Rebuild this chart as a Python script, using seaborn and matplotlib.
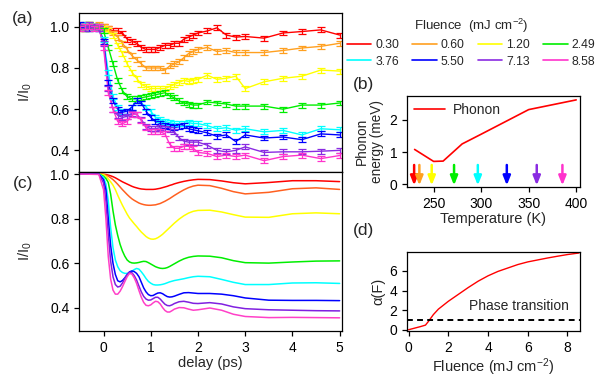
import matplotlib
matplotlib.use("Agg")
import matplotlib.pyplot as plt
from matplotlib.lines import Line2D
from matplotlib.ticker import FormatStrFormatter
import seaborn as sns
import pandas as pd

# ---------------- data ----------------
fluences = ["0.30", "0.60", "1.20", "2.49", "3.76", "5.50", "7.13", "8.58"]
colors = ["#FF0000", "#FFA020", "#FFFF00", "#00EE00", "#00FFFF", "#0000FF", "#8A2BE2", "#FF33CC"]
colors_c = ["#FF0000", "#FF6020", "#FFFF00", "#00EE00", "#00FFFF", "#0000FF", "#8020E0", "#FF40C8"]

# (a) measured I/I0 vs delay
t_exp = [-0.5, -0.4, -0.3, -0.2, -0.1, 0.0, 0.1, 0.2, 0.3, 0.4, 0.5, 0.6, 0.7, 0.8, 0.9,
         1.0, 1.1, 1.2, 1.3, 1.4, 1.5, 1.6, 1.7, 1.8, 1.9, 2.0,
         2.2, 2.4, 2.6, 2.8, 3.0, 3.4, 3.8, 4.2, 4.6, 5.0]
exp_030 = [1.00, 0.99, 1.01, 1.00, 1.00, 1.00, 0.99, 0.98, 0.98, 0.97, 0.94, 0.93, 0.92, 0.90, 0.89,
           0.89, 0.89, 0.90, 0.91, 0.91, 0.92, 0.92, 0.94, 0.95, 0.96, 0.97,
           0.98, 0.995, 0.96, 0.95, 0.953, 0.945, 0.97, 0.977, 0.985, 0.96]
exp_060 = [1.00, 1.01, 0.99, 1.00, 1.01, 1.00, 0.99, 0.97, 0.95, 0.92, 0.89, 0.86, 0.84, 0.82, 0.80,
           0.80, 0.80, 0.80, 0.79, 0.81, 0.82, 0.83, 0.85, 0.87, 0.88, 0.89,
           0.90, 0.88, 0.885, 0.875, 0.875, 0.875, 0.885, 0.897, 0.905, 0.92]
exp_120 = [0.99, 1.00, 1.01, 1.00, 1.00, 0.99, 0.98, 0.96, 0.91, 0.87, 0.82, 0.78, 0.75, 0.72, 0.71,
           0.70, 0.70, 0.70, 0.70, 0.71, 0.72, 0.73, 0.74, 0.735, 0.74, 0.745,
           0.765, 0.745, 0.75, 0.76, 0.70, 0.733, 0.75, 0.76, 0.79, 0.785]
exp_249 = [1.00, 0.99, 1.01, 1.00, 1.00, 0.98, 0.90, 0.82, 0.74, 0.69, 0.66, 0.65, 0.65, 0.655, 0.66,
           0.665, 0.67, 0.675, 0.68, 0.665, 0.655, 0.64, 0.63, 0.625, 0.62, 0.62,
           0.635, 0.63, 0.625, 0.615, 0.615, 0.615, 0.60, 0.62, 0.62, 0.63]
exp_376 = [1.00, 1.01, 0.99, 1.00, 0.99, 0.94, 0.78, 0.66, 0.61, 0.59, 0.59, 0.61, 0.64, 0.63, 0.61,
           0.59, 0.56, 0.55, 0.54, 0.535, 0.53, 0.53, 0.53, 0.535, 0.53, 0.53,
           0.52, 0.505, 0.51, 0.498, 0.505, 0.49, 0.497, 0.475, 0.505, 0.50]
exp_550 = [1.01, 1.00, 0.99, 1.00, 0.99, 0.93, 0.73, 0.64, 0.60, 0.585, 0.59, 0.61, 0.64, 0.63, 0.59,
           0.56, 0.54, 0.53, 0.52, 0.515, 0.51, 0.515, 0.52, 0.505, 0.50, 0.495,
           0.485, 0.468, 0.475, 0.443, 0.475, 0.46, 0.465, 0.452, 0.48, 0.475]
exp_713 = [1.00, 0.99, 1.01, 1.00, 0.99, 0.92, 0.70, 0.60, 0.57, 0.56, 0.565, 0.58, 0.575, 0.55, 0.515,
           0.505, 0.505, 0.51, 0.505, 0.50, 0.49, 0.46, 0.445, 0.44, 0.44, 0.44,
           0.425, 0.40, 0.393, 0.40, 0.417, 0.39, 0.393, 0.393, 0.396, 0.40]
exp_858 = [0.99, 1.00, 1.00, 0.99, 1.00, 0.90, 0.68, 0.60, 0.54, 0.53, 0.54, 0.575, 0.575, 0.545, 0.51,
           0.49, 0.49, 0.49, 0.48, 0.43, 0.41, 0.41, 0.42, 0.42, 0.41, 0.39,
           0.385, 0.37, 0.377, 0.37, 0.377, 0.35, 0.37, 0.377, 0.36, 0.375]
exp_err = 0.012

# (c) simulated I/I0 vs delay
t_sim = [-0.5, -0.1,
         0.00, 0.05, 0.10, 0.15, 0.20, 0.25, 0.30, 0.35, 0.40, 0.45, 0.50, 0.55, 0.60, 0.65, 0.70, 0.75,
         0.80, 0.85, 0.90, 0.95, 1.00, 1.05, 1.10, 1.15, 1.20, 1.25, 1.30, 1.35, 1.40, 1.45, 1.50,
         1.6, 1.7, 1.8, 1.9, 2.0, 2.25, 2.5, 2.75, 3.0, 3.5, 4.0, 4.5, 5.0]
sim_030 = [1.0, 1.0,
           0.999, 0.998, 0.995, 0.992, 0.988, 0.983, 0.977, 0.971, 0.965, 0.960, 0.955, 0.950, 0.945, 0.941,
           0.938, 0.935, 0.933, 0.932, 0.931, 0.931, 0.931, 0.931, 0.932, 0.934, 0.936, 0.939, 0.942, 0.945,
           0.949, 0.952, 0.956,
           0.962, 0.967, 0.971, 0.974, 0.976, 0.975, 0.969, 0.961, 0.956, 0.962, 0.970, 0.970, 0.966]
sim_060 = [1.0, 1.0,
           0.998, 0.995, 0.990, 0.983, 0.975, 0.965, 0.954, 0.942, 0.930, 0.919, 0.908, 0.898, 0.889, 0.882,
           0.876, 0.870, 0.866, 0.863, 0.861, 0.860, 0.860, 0.861, 0.862, 0.865, 0.868, 0.873, 0.878, 0.884,
           0.890, 0.897, 0.904,
           0.917, 0.929, 0.939, 0.946, 0.950, 0.948, 0.936, 0.921, 0.911, 0.918, 0.934, 0.938, 0.931]
sim_120 = [1.0, 1.0,
           0.997, 0.990, 0.978, 0.965, 0.950, 0.930, 0.905, 0.882, 0.860, 0.840, 0.820, 0.803, 0.790, 0.777,
           0.765, 0.752, 0.740, 0.730, 0.720, 0.713, 0.709, 0.708, 0.710, 0.715, 0.722, 0.730, 0.740, 0.750,
           0.760, 0.770, 0.780,
           0.798, 0.813, 0.825, 0.833, 0.837, 0.838, 0.830, 0.818, 0.807, 0.806, 0.822, 0.826, 0.822]
sim_249 = [1.0, 1.0,
           0.990, 0.980, 0.962, 0.910, 0.835, 0.772, 0.725, 0.685, 0.655, 0.632, 0.615, 0.606, 0.602, 0.601,
           0.602, 0.604, 0.607, 0.609, 0.608, 0.603, 0.597, 0.591, 0.585, 0.581, 0.578, 0.577, 0.578, 0.581,
           0.586, 0.592, 0.598,
           0.610, 0.620, 0.627, 0.631, 0.633, 0.632, 0.625, 0.612, 0.603, 0.601, 0.606, 0.610, 0.611]
sim_376 = [1.0, 1.0,
           0.985, 0.955, 0.880, 0.760, 0.670, 0.615, 0.585, 0.567, 0.559, 0.555, 0.555, 0.558, 0.565, 0.572,
           0.577, 0.574, 0.562, 0.548, 0.532, 0.519, 0.511, 0.505, 0.503, 0.503, 0.504, 0.506, 0.509, 0.513,
           0.517, 0.520, 0.523,
           0.527, 0.531, 0.536, 0.540, 0.542, 0.540, 0.528, 0.515, 0.505, 0.505, 0.512, 0.513, 0.510]
sim_550 = [1.0, 1.0,
           0.975, 0.930, 0.800, 0.680, 0.600, 0.550, 0.522, 0.517, 0.523, 0.535, 0.550, 0.562, 0.566, 0.563,
           0.555, 0.540, 0.515, 0.490, 0.472, 0.460, 0.455, 0.456, 0.462, 0.467, 0.468, 0.464, 0.457, 0.451,
           0.449, 0.450, 0.453,
           0.461, 0.468, 0.469, 0.467, 0.465, 0.465, 0.462, 0.455, 0.445, 0.435, 0.434, 0.434, 0.433]
sim_713 = [1.0, 1.0,
           0.960, 0.880, 0.730, 0.610, 0.540, 0.505, 0.494, 0.497, 0.512, 0.532, 0.550, 0.560, 0.558, 0.545,
           0.525, 0.498, 0.472, 0.452, 0.440, 0.435, 0.436, 0.442, 0.448, 0.448, 0.440, 0.428, 0.417, 0.411,
           0.410, 0.414, 0.420,
           0.428, 0.430, 0.426, 0.421, 0.420, 0.424, 0.418, 0.405, 0.397, 0.392, 0.390, 0.388, 0.387]
sim_858 = [1.0, 0.998,
           0.930, 0.800, 0.630, 0.530, 0.480, 0.462, 0.462, 0.475, 0.495, 0.518, 0.540, 0.555, 0.552, 0.535,
           0.510, 0.478, 0.448, 0.425, 0.412, 0.410, 0.414, 0.423, 0.430, 0.428, 0.418, 0.402, 0.389, 0.382,
           0.382, 0.388, 0.395,
           0.402, 0.401, 0.395, 0.390, 0.392, 0.400, 0.390, 0.372, 0.362, 0.357, 0.358, 0.357, 0.356]

# (b) phonon energy vs temperature, arrows mark the fluence temperatures
phonon_T = [230, 250, 260, 280, 300, 350, 400]
phonon_E = [1.08, 0.71, 0.72, 1.25, 1.55, 2.31, 2.61]
arrow_T = [229.5, 235, 248, 271.5, 296.5, 327, 358.5, 385.5]

# (d) alpha(F)
alpha_F = [0, 0.3, 0.6, 0.85, 1.0, 1.25, 1.5, 2.0, 2.5, 3.0, 3.5, 4.0, 4.5, 5.0, 5.5, 6.0,
           6.5, 7.0, 7.5, 8.0, 8.58]
alpha_val = [0, 0.16, 0.32, 0.47, 0.85, 1.55, 2.1, 2.9, 3.6, 4.3, 4.95, 5.5, 5.95, 6.3, 6.65, 6.92,
             7.12, 7.32, 7.5, 7.67, 7.83]
phase_level = 1.0

exp_series = [exp_030, exp_060, exp_120, exp_249, exp_376, exp_550, exp_713, exp_858]
sim_series = [sim_030, sim_060, sim_120, sim_249, sim_376, sim_550, sim_713, sim_858]

df_exp = pd.DataFrame([(t, v, f) for f, s in zip(fluences, exp_series) for t, v in zip(t_exp, s)],
                      columns=["delay", "I", "fluence"])
df_sim = pd.DataFrame([(t, v, f) for f, s in zip(fluences, sim_series) for t, v in zip(t_sim, s)],
                      columns=["delay", "I", "fluence"])

# ---------------- style ----------------
sns.set_theme(style="ticks")
plt.rcParams["font.family"] = ["Liberation Sans", "DejaVu Sans"]
plt.rcParams["mathtext.default"] = "regular"
plt.rcParams["font.size"] = 10
plt.rcParams["axes.edgecolor"] = "black"
plt.rcParams["axes.linewidth"] = 0.9
plt.rcParams["xtick.color"] = "black"
plt.rcParams["ytick.color"] = "black"
plt.rcParams["xtick.major.size"] = 3.5
plt.rcParams["ytick.major.size"] = 3.5
plt.rcParams["xtick.major.width"] = 0.9
plt.rcParams["ytick.major.width"] = 0.9
plt.rcParams["xtick.labelsize"] = 10
plt.rcParams["ytick.labelsize"] = 10

W, H = 600, 386
fig = plt.figure(figsize=(6.0, 3.86), dpi=100)


def px_axes(l, t, r, b):
    return fig.add_axes([l / W, 1 - b / H, (r - l) / W, (b - t) / H])


ax_a = px_axes(79, 13, 342, 172)
ax_c = px_axes(79, 172, 342, 331)
ax_b = px_axes(407, 96, 580, 187)
ax_d = px_axes(407, 252, 580, 331)

# (a)
sns.lineplot(data=df_exp, x="delay", y="I", hue="fluence", palette=colors, estimator=None,
             sort=False, linewidth=1.0, legend=False, ax=ax_a)
for s, c in zip(exp_series, colors):
    ax_a.errorbar(t_exp, s, yerr=exp_err, fmt="none", ecolor=c, elinewidth=0.9, capsize=2.8,
                  capthick=0.9)
ax_a.set_xlim(-0.52, 5.05)
ax_a.set_ylim(0.295, 1.067)
ax_a.set_yticks([0.4, 0.6, 0.8, 1.0])
ax_a.yaxis.set_major_formatter(FormatStrFormatter("%.1f"))
ax_a.tick_params(axis="x", bottom=False, labelbottom=False)
ax_a.set_xlabel("")
ax_a.set_ylabel("I/I$_0$", fontsize=10.5)
ax_a.yaxis.set_label_coords(-0.17, 0.5)

# (c)
sns.lineplot(data=df_sim, x="delay", y="I", hue="fluence", palette=colors_c, estimator=None,
             sort=False, linewidth=1.1, legend=False, ax=ax_c)
ax_c.set_xlim(-0.52, 5.05)
ax_c.set_ylim(0.297, 1.009)
ax_c.set_xticks([0, 1, 2, 3, 4, 5])
ax_c.set_yticks([0.4, 0.6, 0.8, 1.0])
ax_c.yaxis.set_major_formatter(FormatStrFormatter("%.1f"))
ax_c.set_xlabel("delay (ps)", fontsize=10.5, labelpad=1)
ax_c.set_ylabel("I/I$_0$", fontsize=10.5)
ax_c.yaxis.set_label_coords(-0.17, 0.5)

# (b)
sns.lineplot(x=phonon_T, y=phonon_E, color="#FF0000", linewidth=1.2, label="Phonon", ax=ax_b)
for T, c in zip(arrow_T, colors):
    ax_b.annotate("", xy=(T, -0.03), xytext=(T, 0.6),
                  arrowprops=dict(arrowstyle="-|>,head_length=0.55,head_width=0.22", color=c,
                                  lw=1.8, shrinkA=0, shrinkB=0))
ax_b.set_xlim(222, 404)
ax_b.set_ylim(-0.08, 2.73)
ax_b.set_xticks([250, 300, 350, 400])
ax_b.set_yticks([0, 1, 2])
ax_b.set_xlabel("Temperature (K)", fontsize=10.5, labelpad=1)
ax_b.set_ylabel("Phonon\nenergy (meV)", fontsize=9.8, linespacing=1.05)
ax_b.yaxis.set_label_coords(-0.135, 0.5)
ax_b.legend(loc="upper left", frameon=False, fontsize=10, handlelength=2.2, handletextpad=0.6,
            borderaxespad=0.3, borderpad=0.2)

# (d)
sns.lineplot(x=alpha_F, y=alpha_val, color="#FF0000", linewidth=1.0, ax=ax_d)
ax_d.axhline(phase_level, color="black", linestyle=(0, (3, 2.2)), linewidth=1.4)
ax_d.text(3.05, 2.45, "Phase transition", fontsize=10, va="center", ha="left")
ax_d.set_xlim(-0.08, 8.63)
ax_d.set_ylim(-0.13, 7.93)
ax_d.set_xticks([0, 2, 4, 6, 8])
ax_d.set_yticks([0, 2, 4, 6])
ax_d.set_xlabel("Fluence (mJ cm$^{-2}$)", fontsize=10.5, labelpad=1)
ax_d.set_ylabel("α(F)", fontsize=10.5)
ax_d.yaxis.set_label_coords(-0.125, 0.5)

for ax in (ax_a, ax_c, ax_b, ax_d):
    for sp in ax.spines.values():
        sp.set_visible(True)
        sp.set_linewidth(0.9)

# panel letters
for lbl, x, y in [("(a)", 12, 19), ("(c)", 13, 184), ("(b)", 353, 84), ("(d)", 353, 230)]:
    fig.text(x / W, 1 - y / H, lbl, fontsize=12.5, va="center", ha="left")

# fluence legend, filled row by row like the reference (matplotlib fills columns)
nrow = 2
order = [r * 4 + c for c in range(4) for r in range(nrow)]
handles = [Line2D([0], [0], color=colors[i], lw=1.2) for i in order]
labels = [fluences[i] for i in order]
fig.legend(handles, labels, ncol=4, loc="upper left", bbox_to_anchor=(347 / W, 1 - 17 / H),
           frameon=False, fontsize=8.8, title="Fluence  (mJ cm$^{-2}$)", title_fontsize=9.5,
           handlelength=2.0, handletextpad=0.3, columnspacing=1.1, labelspacing=0.35,
           borderpad=0, borderaxespad=0)

fig.savefig("out.png", dpi=100)
